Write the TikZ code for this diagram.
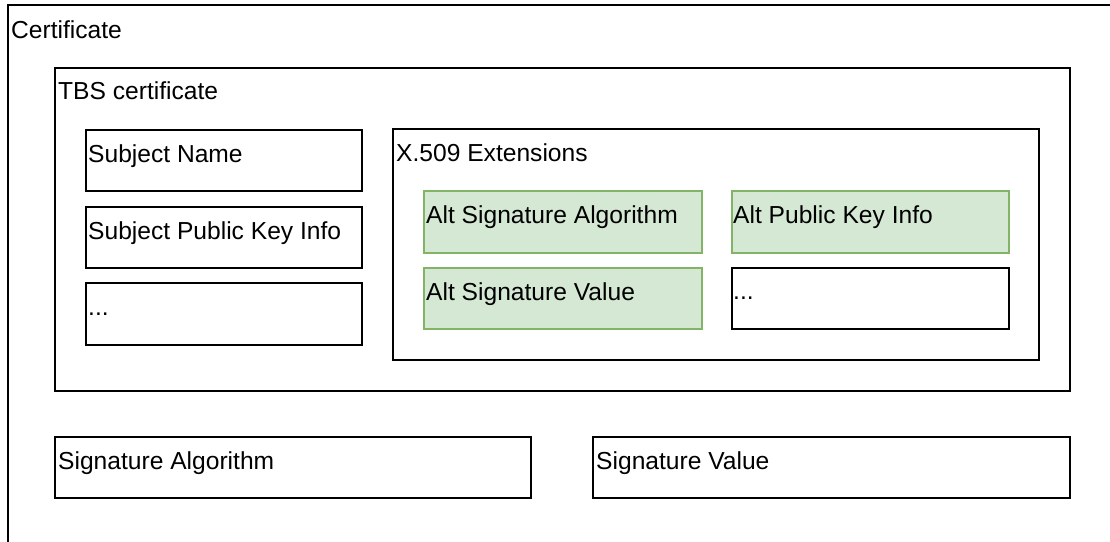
\documentclass[tikz,border=0pt]{standalone}
\usepackage{fontspec}
\setmainfont{Liberation Sans}
\definecolor{greenfill}{HTML}{D5E8D4}
\definecolor{greenline}{HTML}{82B366}
\tikzset{
  box/.style={draw=black, line width=1.6pt, fill=white, inner sep=0pt, anchor=north west},
  altbox/.style={draw=greenline, line width=1.6pt, fill=greenfill, inner sep=0pt, anchor=north west},
  lbl/.style={anchor=base west, inner sep=0pt, font=\fontsize{24.6}{28}\selectfont}
}
\newcommand{\mybox}[6]{% name, style, x1, y1, x2, y2
  \node[#2, minimum width=#5pt-#3pt, minimum height=#6pt-#4pt] (#1) at (#3,#4) {};}
\begin{document}
\begin{tikzpicture}[x=1pt, y=-1pt]
\useasboundingbox (0,0) rectangle (1110,541);
\clip (0,0) rectangle (1110,541);
\draw[line width=1.6pt] (8,5) rectangle (1125,556);
\node (outer) at (8,5) [inner sep=0pt] {};
\node[lbl] (tcert) at (11,38) {Certificate};

\mybox{tbs}{box}{54}{67}{1069}{390}
\node[lbl] (ttbs) at ([shift={(4,32)}]tbs.north west) {TBS certificate};

\mybox{sn}{box}{85}{129}{361}{190}
\node[lbl] (tsn) at ([shift={(3,33)}]sn.north west) {Subject Name};
\mybox{spki}{box}{85}{206}{361}{267}
\node[lbl] (tspki) at ([shift={(3,33)}]spki.north west) {Subject Public Key Info};
\mybox{dotsl}{box}{85}{282}{361}{344}
\node[lbl] (tdotsl) at ([shift={(3,33)}]dotsl.north west) {...};

\mybox{ext}{box}{392}{128}{1038}{359}
\node[lbl] (text) at ([shift={(4,33)}]ext.north west) {X.509 Extensions};

\mybox{asa}{altbox}{423}{190}{701}{252}
\node[lbl] (tasa) at ([shift={(3,33)}]asa.north west) {Alt Signature Algorithm};
\mybox{apk}{altbox}{731}{190}{1008}{252}
\node[lbl] (tapk) at ([shift={(2,33)}]apk.north west) {Alt Public Key Info};
\mybox{asv}{altbox}{423}{267}{701}{328}
\node[lbl] (tasv) at ([shift={(3,33)}]asv.north west) {Alt Signature Value};
\mybox{dotsr}{box}{731}{267}{1008}{328}
\node[lbl] (tdotsr) at ([shift={(2,32)}]dotsr.north west) {...};

\mybox{sa}{box}{54}{436}{530}{497}
\node[lbl] (tsa) at ([shift={(4,33)}]sa.north west) {Signature Algorithm};
\mybox{sv}{box}{592}{436}{1069}{497}
\node[lbl] (tsv) at ([shift={(4,33)}]sv.north west) {Signature Value};
\end{tikzpicture}
\end{document}
